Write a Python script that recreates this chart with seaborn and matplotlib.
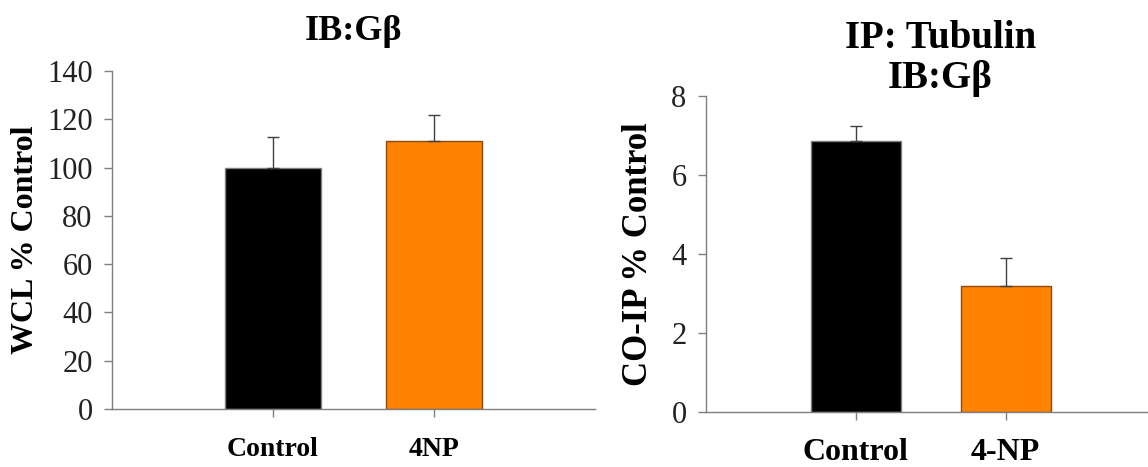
import numpy as np
import pandas as pd
import matplotlib
matplotlib.use("Agg")
import matplotlib.pyplot as plt
import seaborn as sns

# ─ Data ─────────────────────────────────────────────────────────────────── #
wcl_groups = ["Control", "4NP"]
wcl_means  = [100.0, 111.0]
wcl_errs   = [12.5, 10.8]

coip_groups = ["Control", "4-NP"]
coip_means  = [6.85, 3.2]
coip_errs   = [0.38, 0.7]

BLACK  = "#000000"
ORANGE = "#FF8200"
AXIS   = "#7F7F7F"

sns.set_style("white")
plt.rcParams["font.family"] = ["Liberation Serif", "DejaVu Serif"]
plt.rcParams["text.color"] = "black"
plt.rcParams["axes.labelcolor"] = "black"
plt.rcParams["xtick.labelcolor"] = "black"
plt.rcParams["ytick.labelcolor"] = "#222222"


def panel(ax, groups, means, errs, ymax, ystep, xmax, title, title_size,
          title_pad, ylabel, ylab_x, ylab_size, xtick_size, xtick_pad):
    df = pd.DataFrame({"group": groups, "value": means})
    sns.barplot(data=df, x="group", y="value", hue="group",
                palette=[BLACK, ORANGE], width=0.6, legend=False, ax=ax,
                linewidth=1.0, edgecolor=AXIS, saturation=1)
    ax.patches[1].set_edgecolor("#8A4A10")
    ax.errorbar(x=np.arange(len(groups)), y=means,
                yerr=[np.zeros(len(errs)), errs], fmt="none",
                ecolor="#404040", elinewidth=1.0, capsize=4, capthick=1.0)
    ax.set_xlim(-1, xmax)
    ax.set_ylim(0, ymax)
    ax.set_yticks(np.arange(0, ymax + ystep / 2, ystep))
    ax.set_xlabel("")
    ax.set_ylabel(ylabel, fontsize=ylab_size, fontweight="bold")
    ax.yaxis.set_label_coords(ylab_x, 0.5)
    ax.set_title(title, fontsize=title_size, fontweight="bold", pad=title_pad,
                 x=0.53 if "\n" in title else 0.5, linespacing=1.1)
    for s in ["top", "right"]:
        ax.spines[s].set_visible(False)
    for s in ["left", "bottom"]:
        ax.spines[s].set_color(AXIS)
        ax.spines[s].set_linewidth(1.0)
    ax.tick_params(axis="y", direction="out", length=6, width=1.0,
                   color=AXIS, labelsize=22, pad=8, left=True)
    ax.tick_params(axis="x", direction="out", length=6, width=1.0,
                   color=AXIS, pad=xtick_pad, bottom=True)
    for lab in ax.get_xticklabels():
        lab.set_fontsize(xtick_size)
        lab.set_fontweight("bold")


fig = plt.figure(figsize=(11.48, 4.67), dpi=100)
ax1 = fig.add_axes([0.0976, 0.1242, 0.4207, 0.7238])
ax2 = fig.add_axes([0.615, 0.1178, 0.385, 0.6767])

panel(ax1, wcl_groups, wcl_means, wcl_errs, 140, 20, 2.0,
      "IB:Gβ", 26, 22, "WCL % Control", -0.15, 23, 20, 14)
panel(ax2, coip_groups, coip_means, coip_errs, 8, 2, 1.95,
      "IP: Tubulin\nIB:Gβ", 28, 6, "CO-IP % Control", -0.115, 25, 23, 13)

plt.savefig("out.png", dpi=100)
plt.close()
